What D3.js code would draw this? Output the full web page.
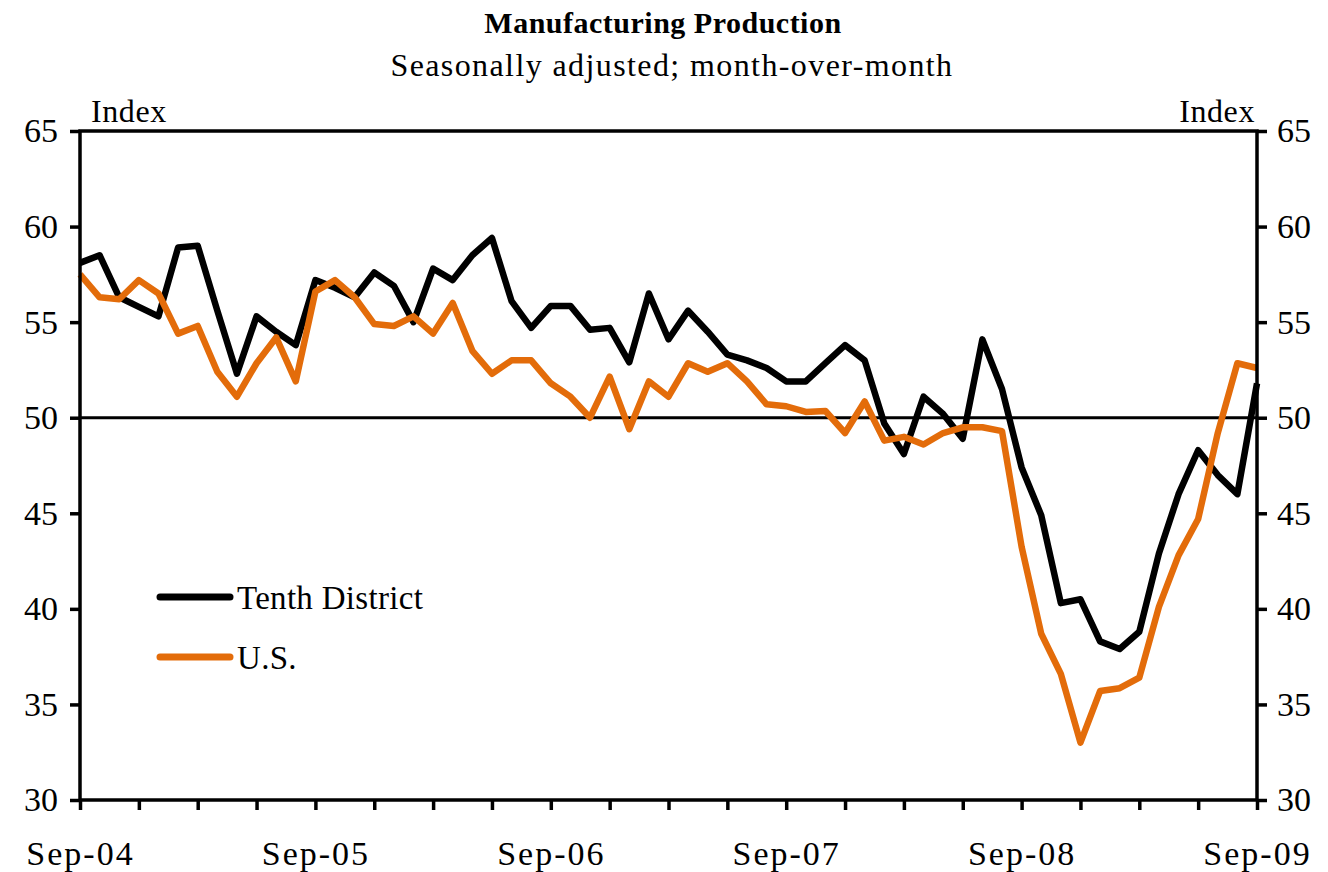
<!DOCTYPE html>
<html>
<head>
<meta charset="utf-8">
<script src="https://cdn.jsdelivr.net/npm/d3@7.9.0/dist/d3.min.js"></script>
<style>
  body { margin: 0; background: #fff; }
  svg { display: block; font-family: "Liberation Serif", "Times New Roman", serif; }
</style>
</head>
<body>
<svg id="chart" width="1328" height="872"></svg>
<script>
// monthly values, Sep-04 .. Sep-09 (61 months)
const tenthDistrict = [
  58.1, 58.5, 56.3, 55.8, 55.3, 58.9, 59.0, 55.6, 52.3, 55.3, 54.5, 53.8,
  57.2, 56.8, 56.3, 57.6, 56.9, 55.0, 57.8, 57.2, 58.5, 59.4, 56.1, 54.7,
  55.85, 55.85, 54.6, 54.7, 52.9, 56.5, 54.1, 55.6, 54.5, 53.3, 53.0, 52.6,
  51.9, 51.9, 52.85, 53.8, 53.0, 49.7, 48.1, 51.1, 50.2, 48.9, 54.1, 51.5,
  47.4, 44.9, 40.3, 40.5, 38.3, 37.9, 38.8, 42.9, 46.0, 48.3, 47.0, 46.0,
  51.8
];
const usValues = [
  57.5, 56.3, 56.2, 57.2, 56.5, 54.4, 54.8, 52.4, 51.1, 52.85, 54.2, 51.9,
  56.6, 57.2, 56.3, 54.9, 54.8, 55.3, 54.4, 56.0, 53.5, 52.3, 53.0, 53.0,
  51.8, 51.1, 50.0, 52.15, 49.4, 51.9, 51.1, 52.85, 52.4, 52.85, 51.9, 50.7,
  50.6, 50.3, 50.35, 49.2, 50.85, 48.8, 49.0, 48.6, 49.2, 49.5, 49.5, 49.3,
  43.25, 38.7, 36.6, 33.0, 35.7, 35.85, 36.4, 40.1, 42.8, 44.7, 49.2, 52.85,
  52.6
];
const xTickLabels = ['Sep-04', 'Sep-05', 'Sep-06', 'Sep-07', 'Sep-08', 'Sep-09'];
const yTicks = [30, 35, 40, 45, 50, 55, 60, 65];
const seriesNames = ['Tenth District', 'U.S.'];
const seriesColors = ['#000000', '#E36C0A'];

const svg = d3.select('#chart');
const plotLeft = 80, plotRight = 1257, plotTop = 131, plotBottom = 800;

const x = d3.scaleLinear().domain([0, tenthDistrict.length - 1]).range([plotLeft, plotRight]);
const y = d3.scaleLinear().domain([30, 65]).range([plotBottom, plotTop]);

// title
svg.append('text')
  .attr('x', 663).attr('y', 33)
  .attr('text-anchor', 'middle')
  .attr('font-size', 30).attr('font-weight', 'bold')
  .attr('letter-spacing', 0.5)
  .text('Manufacturing Production');
svg.append('text')
  .attr('x', 672).attr('y', 76)
  .attr('text-anchor', 'middle')
  .attr('font-size', 32)
  .attr('letter-spacing', 1.4)
  .text('Seasonally adjusted; month-over-month');

// axis captions
svg.append('text').attr('x', 91).attr('y', 122).attr('font-size', 32)
  .attr('letter-spacing', 0.6).text('Index');
svg.append('text').attr('x', 1255).attr('y', 122).attr('font-size', 32)
  .attr('letter-spacing', 0.6).attr('text-anchor', 'end').text('Index');

// reference line at 50
svg.append('line')
  .attr('x1', plotLeft).attr('x2', plotRight)
  .attr('y1', y(50)).attr('y2', y(50))
  .attr('stroke', '#000').attr('stroke-width', 3);

// series lines
const line = d3.line().x((d, i) => x(i)).y(d => y(d));
[tenthDistrict, usValues].forEach((vals, k) => {
  svg.append('path')
    .datum(vals)
    .attr('d', line)
    .attr('fill', 'none')
    .attr('stroke', seriesColors[k])
    .attr('stroke-width', 6.5)
    .attr('stroke-linejoin', 'round');
});

// frame
svg.append('rect')
  .attr('x', plotLeft).attr('y', plotTop)
  .attr('width', plotRight - plotLeft).attr('height', plotBottom - plotTop)
  .attr('fill', 'none').attr('stroke', '#000').attr('stroke-width', 3.5);

// left and right y axes
const yLeft = svg.append('g').attr('transform', `translate(${plotLeft},0)`)
  .call(d3.axisLeft(y).tickValues(yTicks).tickSize(10).tickPadding(12));
const yRight = svg.append('g').attr('transform', `translate(${plotRight},0)`)
  .call(d3.axisRight(y).tickValues(yTicks).tickSize(10).tickPadding(10));

// x axis: ticks every quarter, labels each year
const quarterTicks = d3.range(0, tenthDistrict.length, 3);
const xAxis = svg.append('g').attr('transform', `translate(0,${plotBottom})`)
  .call(d3.axisBottom(x).tickValues(quarterTicks).tickSize(10)
    .tickFormat(i => i % 12 === 0 ? xTickLabels[i / 12] : ''));

[yLeft, yRight, xAxis].forEach(g => {
  g.select('.domain').remove();
  g.selectAll('.tick line').attr('stroke', '#000').attr('stroke-width', 3.5);
  g.selectAll('.tick text')
    .attr('fill', '#000')
    .attr('font-size', 34)
    .attr('font-family', '"Liberation Serif", "Times New Roman", serif');
});
xAxis.selectAll('.tick text').attr('y', 65).attr('dy', 0).attr('letter-spacing', 2);

// legend
const legend = svg.append('g');
seriesNames.forEach((name, k) => {
  const ly = 597 + k * 60;
  legend.append('line')
    .attr('x1', 160).attr('x2', 230).attr('y1', ly).attr('y2', ly)
    .attr('stroke', seriesColors[k]).attr('stroke-width', 7)
    .attr('stroke-linecap', 'round');
  legend.append('text')
    .attr('x', 237).attr('y', ly + 12)
    .attr('font-size', 33)
    .attr('letter-spacing', 0.3)
    .text(name);
});
</script>
</body>
</html>
